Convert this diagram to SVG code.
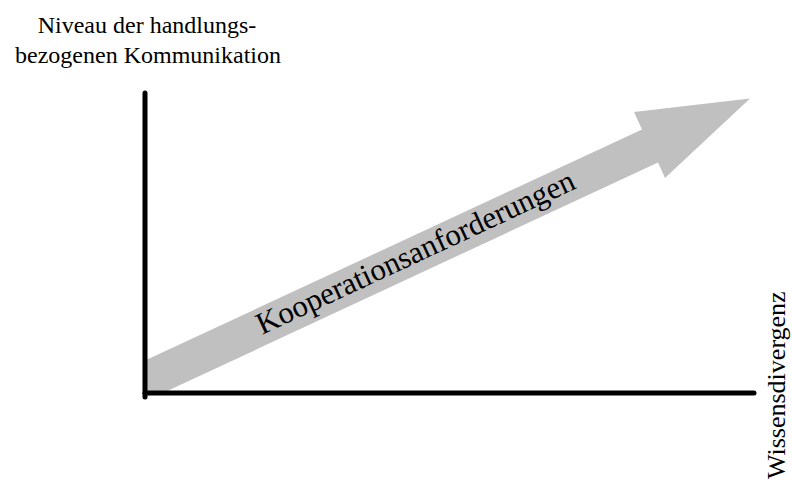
<svg xmlns="http://www.w3.org/2000/svg" width="792" height="484" viewBox="0 0 792 484">
  <style>
    .lbl { font-family: "Liberation Serif", "Times New Roman", serif; fill: #000; }
    .axis { stroke: #000; stroke-width: 5; stroke-linecap: round; fill: none; }
    .big-arrow { fill: #c0c0c0; stroke: none; }
  </style>
  <rect width="792" height="484" fill="#fff"/>
  <g id="arrow">
    <polygon class="big-arrow" points="146,360 642,129.5 634,112 750,98.5 665,178 658,162.5 165,392 146,393"/>
    <text class="lbl" x="262" y="335" font-size="31" transform="rotate(-25 262 335)">Kooperationsanforderungen</text>
  </g>
  <g id="connectors">
    <line id="y-axis" class="axis" x1="145" y1="93" x2="145" y2="397"/>
    <line id="x-axis" class="axis" x1="145" y1="393" x2="754" y2="393"/>
  </g>
  <g id="y-label">
    <text class="lbl" font-size="24" text-anchor="middle"><tspan x="147" y="33">Niveau der handlungs-</tspan><tspan x="148" y="63">bezogenen Kommunikation</tspan></text>
  </g>
  <g id="x-label">
    <text class="lbl" x="785" y="479" font-size="26" transform="rotate(-90 785 479)">Wissensdivergenz</text>
  </g>
</svg>
